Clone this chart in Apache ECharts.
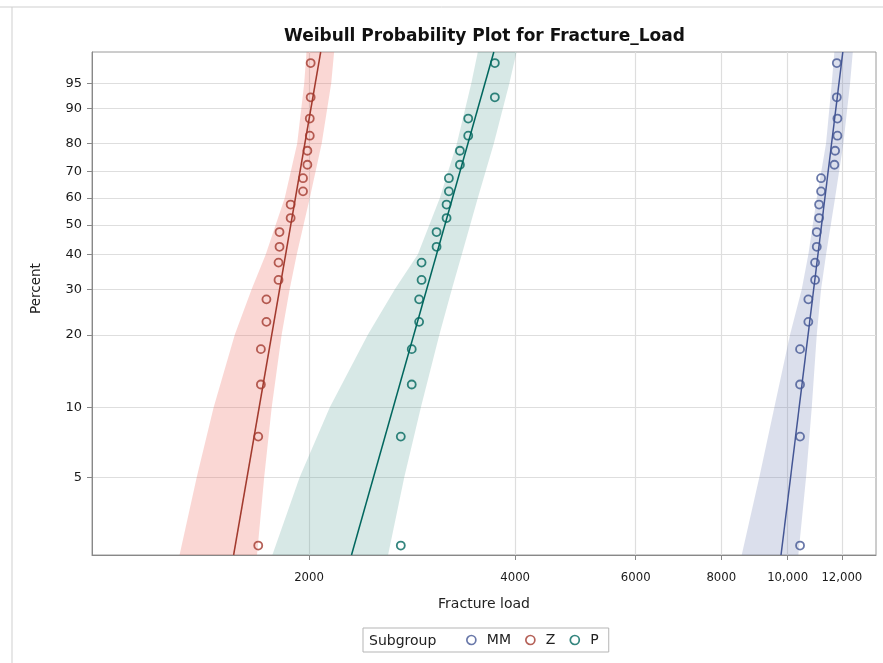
<!DOCTYPE html>
<html>
<head>
<meta charset="utf-8">
<title>Weibull Probability Plot for Fracture_Load</title>
<script src="https://cdn.jsdelivr.net/npm/echarts@6/dist/echarts.min.js"></script>
<style>
	html, body { margin: 0; padding: 0; background: #fff; }
	#chart { width: 883px; height: 663px; }
</style>
</head>
<body>
<div id="chart"></div>
<script>
(function () {

	// plotting positions of the 20 observations, (i - 0.5) / n, in percent
	var pointPct = [2.5, 7.5, 12.5, 17.5, 22.5, 27.5, 32.5, 37.5, 42.5, 47.5,
		52.5, 57.5, 62.5, 67.5, 72.5, 77.5, 82.5, 87.5, 92.5, 97.5];

	var mmLoad = [10426, 10426, 10426, 10426, 10721, 10721, 10967, 10967, 11029, 11029,
		11115, 11115, 11190, 11190, 11703, 11731, 11822, 11822, 11798, 11798];
	var zLoad  = [1686, 1686, 1701, 1701, 1733, 1733, 1805, 1805, 1811, 1811,
		1880, 1880, 1960, 1960, 1989, 1989, 2005, 2005, 2011, 2011];
	var pLoad  = [2723, 2723, 2825, 2825, 2896, 2896, 2920, 2920, 3071, 3071,
		3176, 3176, 3201, 3201, 3322, 3322, 3416, 3416, 3736, 3736];

	// axis range
	var loadMin = 964, loadMax = 13460;
	var pctMin = 2.27, pctMax = 98.4;

	// fitted lines, load at pctMin and at pctMax
	var fitPct = [pctMin, pctMax];
	var mmFit = [9780, 12039];
	var zFit  = [1552, 2080];
	var pFit  = [2307, 3723];

	// confidence bands, from top of plot down
	var bandPct = [pctMax, 95, 80, 60, 40, 30, 20, 10, 5, pctMin];
	var mmLow  = [11701, 11599, 11379, 11029, 10721, 10486, 10081, 9562, 9092, 8569];
	var mmHigh = [12449, 12336, 12061, 11729, 11379, 11190, 11029, 10845, 10639, 10366];
	var zLow   = [1983, 1968, 1922, 1843, 1729, 1649, 1558, 1451, 1371, 1294];
	var zHigh  = [2176, 2155, 2087, 2005, 1919, 1874, 1824, 1764, 1720, 1679];
	var pLow   = [3528, 3452, 3288, 3105, 2883, 2669, 2437, 2144, 1938, 1768];
	var pHigh  = [4019, 3923, 3723, 3528, 3343, 3233, 3100, 2913, 2755, 2609];

	var xTicks = [2000, 4000, 6000, 8000, 10000, 12000];
	var yTicks = [5, 10, 20, 30, 40, 50, 60, 70, 80, 90, 95];

	var MM_COLOR = '#445694', Z_COLOR = '#A23A2E', P_COLOR = '#01665E';
	var MM_FILL = 'rgba(111,126,179,0.25)', Z_FILL = 'rgba(236,112,100,0.28)', P_FILL = 'rgba(102,165,160,0.26)';
	var FONT = 'DejaVu Sans';

	function weib(p) { return Math.log(-Math.log(1 - p / 100)); }
	function lg(v) { return Math.log(v) / Math.LN10; }

	function scatterSeries(name, loads, color) {
		return {
			name: name, type: 'scatter', z: 4,
			symbol: 'circle', symbolSize: 8,
			color: color,
			itemStyle: { color: 'rgba(255,255,255,0)', borderColor: color, borderWidth: 1.8 },
			data: pointPct.map(function (p, i) { return [lg(loads[i]), weib(p)]; })
		};
	}

	function fitSeries(name, loads, color) {
		return {
			name: name, type: 'line', z: 3, symbol: 'none', silent: true,
			lineStyle: { color: color, width: 1.5 },
			data: fitPct.map(function (p, i) { return [lg(loads[i]), weib(p)]; })
		};
	}

	function bandSeries(name, low, high, fill) {
		var rows = bandPct.map(function (p, i) { return [lg(low[i]), lg(high[i]), weib(p)]; });
		return {
			name: name, type: 'custom', z: 2, silent: true,
			encode: { x: [0, 1], y: 2 },
			data: rows,
			renderItem: function (params, api) {
				if (params.dataIndex !== 0) return null;
				var pts = [];
				for (var i = 0; i < rows.length; i++) pts.push(api.coord([rows[i][0], rows[i][2]]));
				for (var j = rows.length - 1; j >= 0; j--) pts.push(api.coord([rows[j][1], rows[j][2]]));
				return { type: 'polygon', shape: { points: pts }, style: { fill: fill } };
			}
		};
	}

	var chart = echarts.init(document.getElementById('chart'));

	chart.setOption({
		animation: false,
		backgroundColor: '#fff',
		title: {
			text: 'Weibull Probability Plot for Fracture_Load',
			left: 279, top: 23,
			textStyle: { fontFamily: FONT, fontSize: 17, fontWeight: 'bold', color: '#111' }
		},
		grid: {
			left: 92, right: 7, top: 52, bottom: 108,
			show: true, borderColor: '#9a9a9a', borderWidth: 1
		},
		xAxis: {
			type: 'value', min: lg(loadMin), max: lg(loadMax),
			name: 'Fracture load', nameLocation: 'middle', nameGap: 42,
			nameTextStyle: { fontFamily: FONT, fontSize: 14, color: '#222' },
			axisLine: { onZero: false, lineStyle: { color: '#888' } },
			axisTick: { show: true, length: 5, lineStyle: { color: '#888' }, customValues: xTicks.map(lg) },
			axisLabel: {
				customValues: xTicks.map(lg), margin: 16,
				fontFamily: 'DejaVu Sans Condensed', fontSize: 13, color: '#1a1a1a',
				formatter: function (v) {
					var n = Math.round(Math.pow(10, v));
					return n >= 10000 ? n.toLocaleString('en-US') : String(n);
				}
			},
			splitLine: { show: true, lineStyle: { color: '#dedede', width: 1.2 } }
		},
		yAxis: {
			type: 'value', min: weib(pctMin), max: weib(pctMax),
			name: 'Percent', nameLocation: 'middle', nameGap: 49,
			nameTextStyle: { fontFamily: FONT, fontSize: 13.5, color: '#222', padding: [0, 0, 0, 30] },
			axisLine: { show: true, onZero: false, lineStyle: { color: '#888' } },
			axisTick: { show: true, length: 5, lineStyle: { color: '#888' }, customValues: yTicks.map(weib) },
			axisLabel: {
				customValues: yTicks.map(weib), margin: 10,
				fontFamily: FONT, fontSize: 13, color: '#1a1a1a',
				formatter: function (v) { return String(Math.round(100 * (1 - Math.exp(-Math.exp(v))))); }
			},
			splitLine: { show: true, lineStyle: { color: '#dedede', width: 1.2 } }
		},
		legend: {
			data: ['MM', 'Z', 'P'],
			left: 363, top: 628,
			padding: [5, 10, 5, 103],
			itemGap: 14, itemWidth: 9, itemHeight: 9,
			icon: 'circle',
			itemStyle: { color: 'rgba(255,255,255,0)', borderWidth: 1.7 },
			borderColor: '#b5b5b5', borderWidth: 1,
			textStyle: { fontFamily: FONT, fontSize: 14, color: '#222', padding: [0, 0, 0, 6] }
		},
		graphic: [
			{ type: 'line', shape: { x1: 0, y1: 7, x2: 883, y2: 7 }, style: { stroke: '#cfcfcf', lineWidth: 1 } },
			{ type: 'line', shape: { x1: 12, y1: 7, x2: 12, y2: 663 }, style: { stroke: '#cfcfcf', lineWidth: 1 } },
			{
				type: 'text', x: 369, y: 641,
				style: { text: 'Subgroup', fontFamily: FONT, fontSize: 14, fill: '#222', verticalAlign: 'middle' }
			}
		],
		series: [
			bandSeries('MM band', mmLow, mmHigh, MM_FILL),
			bandSeries('Z band', zLow, zHigh, Z_FILL),
			bandSeries('P band', pLow, pHigh, P_FILL),
			fitSeries('MM fit', mmFit, MM_COLOR),
			fitSeries('Z fit', zFit, Z_COLOR),
			fitSeries('P fit', pFit, P_COLOR),
			scatterSeries('MM', mmLoad, MM_COLOR),
			scatterSeries('Z', zLoad, Z_COLOR),
			scatterSeries('P', pLoad, P_COLOR)
		]
	});

})();
</script>
</body>
</html>
